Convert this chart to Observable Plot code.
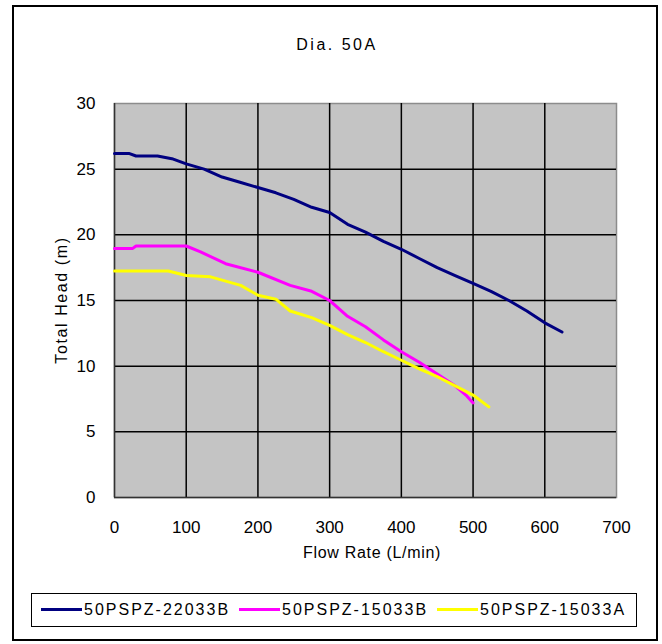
<!DOCTYPE html>
<html>
<head>
<meta charset="utf-8">
<script src="https://cdn.jsdelivr.net/npm/d3@7"></script>
<script src="https://cdn.jsdelivr.net/npm/@observablehq/plot@0.6"></script>
<style>
  html, body { margin: 0; padding: 0; background: #fff; }
  #wrap { position: relative; width: 662px; height: 644px; font-family: "Liberation Sans", Arial, sans-serif; color: #000; }
  #border { position: absolute; left: 12px; top: 5px; width: 646px; height: 636px; border: 2px solid #000; box-sizing: border-box; }
  #chart { position: absolute; left: 0; top: 0; }
  .txt { position: absolute; font-size: 16px; white-space: nowrap; line-height: 1; }
  #title { left: 337px; top: 45px; transform: translate(-50%, -50%); letter-spacing: 2.5px; }
  #xlabel { left: 372px; top: 553px; transform: translate(-50%, -50%); letter-spacing: 0.7px; }
  #ylabel { left: 62px; top: 300px; transform: translate(-50%, -50%) rotate(-90deg); letter-spacing: 1.6px; }
  #legend { position: absolute; left: 31px; top: 593px; width: 606px; height: 34px; border: 1.5px solid #000; box-sizing: border-box; }
  .item { position: absolute; top: 8px; font-size: 16px; line-height: 1; letter-spacing: 2px; white-space: nowrap; }
  .sw { display: inline-block; width: 41px; height: 3px; vertical-align: middle; margin-right: 2px; position: relative; top: -1px; }
</style>
</head>
<body>
<div id="wrap">
  <div id="chart"></div>
  <div id="border"></div>
  <div id="title" class="txt">Dia. 50A</div>
  <div id="xlabel" class="txt">Flow Rate (L/min)</div>
  <div id="ylabel" class="txt">Total Head (m)</div>
  <div id="legend"></div>
</div>
<script>
const seriesNames = ["50PSPZ-22033B", "50PSPZ-15033B", "50PSPZ-15033A"];
const seriesColors = ["#000080", "#ff00ff", "#ffff00"];

const flowA = [0, 20, 30, 60, 80, 100, 125, 150, 175, 200, 225, 250, 275, 300, 325, 350, 375, 400, 425, 450, 475, 500, 525, 550, 575, 600, 624];
const headA = [26.2, 26.2, 26.0, 26.0, 25.8, 25.4, 25.0, 24.4, 24.0, 23.6, 23.2, 22.7, 22.1, 21.7, 20.8, 20.2, 19.5, 18.9, 18.2, 17.5, 16.9, 16.3, 15.7, 15.0, 14.2, 13.3, 12.6];

const flowB = [0, 25, 30, 100, 120, 155, 200, 245, 275, 300, 325, 350, 375, 400, 425, 450, 475, 490, 500];
const headB = [18.95, 18.95, 19.15, 19.15, 18.7, 17.8, 17.15, 16.15, 15.7, 15.0, 13.8, 13.0, 12.0, 11.1, 10.3, 9.4, 8.5, 7.8, 7.2];

const flowC = [0, 75, 100, 134, 176, 200, 225, 245, 275, 300, 325, 350, 375, 400, 425, 450, 475, 500, 522];
const headC = [17.25, 17.25, 16.9, 16.8, 16.15, 15.4, 15.1, 14.2, 13.7, 13.1, 12.4, 11.8, 11.1, 10.45, 9.8, 9.2, 8.5, 7.8, 6.9];

const xTicks = [0, 100, 200, 300, 400, 500, 600, 700];
const yTicks = [0, 5, 10, 15, 20, 25, 30];

const rows = [];
[[flowA, headA], [flowB, headB], [flowC, headC]].forEach(([fx, hy], i) => {
  fx.forEach((f, j) => rows.push({series: seriesNames[i], flow: f, head: hy[j]}));
});

const chart = Plot.plot({
  width: 662,
  height: 644,
  marginLeft: 114,
  marginRight: 46,
  marginTop: 103,
  marginBottom: 147,
  style: {fontFamily: "Liberation Sans, Arial, sans-serif", fontSize: "17px", background: "transparent"},
  x: {domain: [0, 700], ticks: xTicks, label: null},
  y: {domain: [0, 30], ticks: yTicks, label: null},
  color: {domain: seriesNames, range: seriesColors},
  marks: [
    Plot.frame({fill: "#c4c4c4", stroke: "#8c8c8c", strokeWidth: 1.5}),
    Plot.gridX(xTicks.slice(1, -1), {stroke: "#000", strokeOpacity: 1, strokeWidth: 1.5}),
    Plot.gridY(yTicks.slice(1, -1), {stroke: "#000", strokeOpacity: 1, strokeWidth: 1.5}),
    Plot.ruleX([0], {stroke: "#333", strokeWidth: 1.5}),
    Plot.ruleY([0], {stroke: "#333", strokeWidth: 1.5}),
    Plot.axisX({ticks: xTicks, tickSize: 0, tickPadding: 23, label: null, fontSize: 17}),
    Plot.axisY({ticks: yTicks, tickSize: 0, tickPadding: 19, label: null, fontSize: 17}),
    Plot.line(rows, {x: "flow", y: "head", z: "series", stroke: "series", strokeWidth: 3, curve: "linear"})
  ]
});
document.getElementById("chart").appendChild(chart);

const legend = document.getElementById("legend");
const lefts = [9, 207, 405];
seriesNames.forEach((n, i) => {
  const d = document.createElement("div");
  d.className = "item";
  d.style.left = lefts[i] + "px";
  d.innerHTML = `<span class="sw" style="background:${seriesColors[i]}"></span>${n}`;
  legend.appendChild(d);
});
</script>
</body>
</html>
